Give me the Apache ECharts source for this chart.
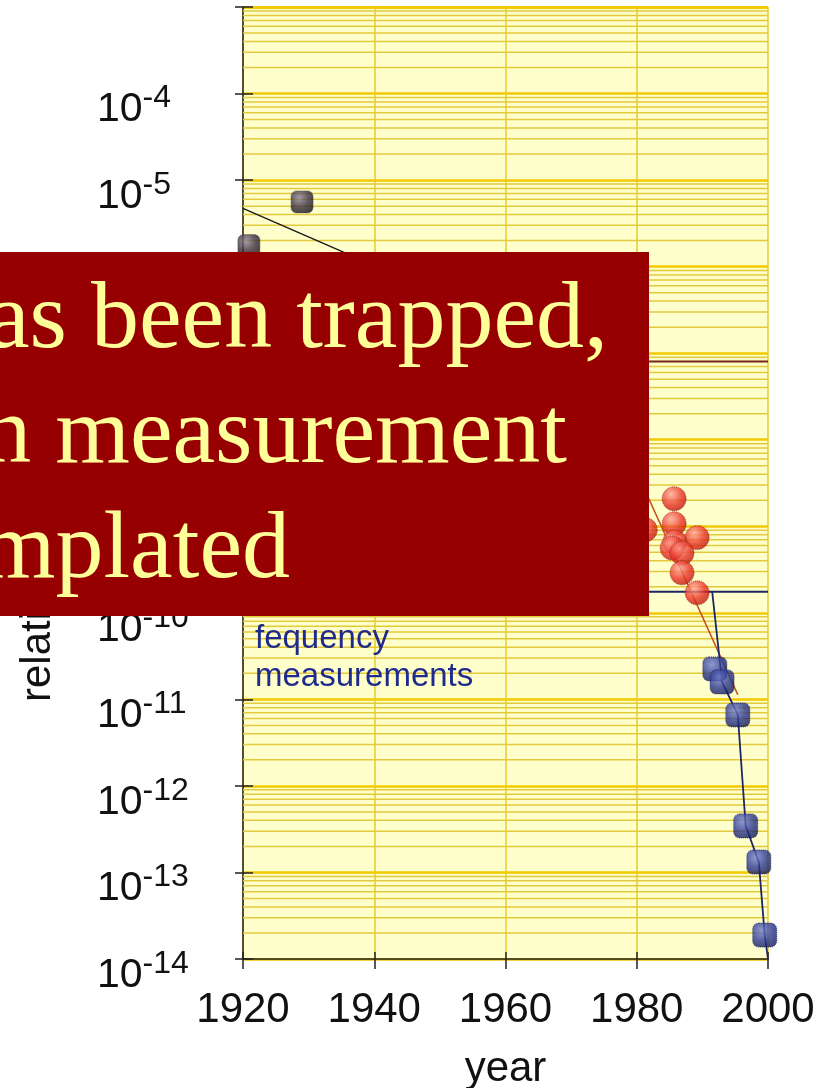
<!DOCTYPE html>
<html><head><meta charset="utf-8">
<script src="https://cdn.jsdelivr.net/npm/echarts@6/dist/echarts.min.js"></script>
<style>html,body{margin:0;padding:0;background:#fff}#c{width:829px;height:1088px}</style>
</head><body><div id="c"></div>
<script>
// ---- data ----
const xTicks = [1920, 1940, 1960, 1980, 2000];
const yTickExponents = [-14, -13, -12, -11, -10, -9, -8, -7, -6, -5, -4];
const gridDecades = [-14, -13, -12, -11, -10, -9, -8, -7, -6, -5, -4];
const minorFactors = [2, 3, 4, 5, 6, 7, 8, 9];

const blackYears = [1920.9, 1929.0];
const blackVals = [1.75e-6, 5.6e-6];
const blackFitYears = [1920, 1950];
const blackFitVals = [4.7e-6, 4.8e-7];

const redYears = [1981.3, 1985.7, 1985.7, 1989.2, 1985.8, 1985.4, 1986.9, 1986.9, 1989.2];
const redVals = [9.1e-10, 2.08e-9, 1.07e-9, 7.4e-10, 6.6e-10, 5.6e-10, 4.9e-10, 2.9e-10, 1.70e-10];
const redFitYears = [1978, 1995.4];
const redFitVals = [9.1e-9, 1.13e-11];

const blueYears = [1991.9, 1993.0, 1995.4, 1996.6, 1998.6, 1999.5];
const blueVals = [2.25e-11, 1.59e-11, 6.6e-12, 3.45e-13, 1.32e-13, 1.89e-14];
const blueCurveYears = [1991.5, 1993.0, 1995.4, 1996.6, 1998.6, 1999.5, 2000];
const blueCurveVals = [1.75e-10, 1.59e-11, 6.6e-12, 3.45e-13, 1.32e-13, 1.89e-14, 1e-14];

const darkRedLevel = 8e-8;
const blueLevel = 1.75e-10;
const levelYears = [1970, 2000];
const gridYears = [1920, 2000];

const overlayLines = ['as been trapped,', 'n measurement', 'mplated'];
const annotationLines = ['fequency', 'measurements'];
const xName = 'year';
const yName = 'relative uncertainty';

// ---- build ----
const zip = (xs, ys) => xs.map((x, i) => [x, ys[i]]);
const minorVals = [];
gridDecades.forEach(d => minorFactors.forEach(k => minorVals.push(k * Math.pow(10, d))));

const ball = (c0, c1, c2) => ({
  type: 'radial', x: 0.38, y: 0.32, r: 0.75,
  colorStops: [{offset: 0, color: c0}, {offset: 0.55, color: c1}, {offset: 1, color: c2}]
});

const font = '"Liberation Sans", Arial, Helvetica, sans-serif';
const serif = '"Liberation Serif", "Times New Roman", serif';

const gridSeries = minorVals.map(v => ({
  type: 'line', data: zip(gridYears, [v, v]), symbol: 'none', z: 1, silent: true,
  lineStyle: {color: '#E3C93C', width: 1.5}
}));

const chart = echarts.init(document.getElementById('c'), null, {renderer: 'canvas'});
chart.setOption({
  animation: false,
  backgroundColor: '#ffffff',
  grid: {left: 243, right: 61, top: 7, bottom: 129, show: true, backgroundColor: '#FFFFCC', borderWidth: 0, outerBoundsMode: 'none'},
  xAxis: [{
    type: 'value', min: 1920, max: 2000, interval: 20, position: 'bottom',
    name: xName, nameLocation: 'middle', nameGap: 89,
    nameTextStyle: {fontFamily: font, fontSize: 42, color: '#111'},
    axisLine: {show: true, lineStyle: {color: '#222', width: 1.5}},
    axisTick: {show: true, length: 10, lineStyle: {color: '#222', width: 1.5}},
    axisLabel: {fontFamily: font, fontSize: 42, lineHeight: 42, color: '#111', margin: 30,
      formatter: v => xTicks.includes(v) ? String(v) : ''},
    splitLine: {show: true, lineStyle: {color: '#E6CB2C', width: 1.5}}
  }, {
    type: 'value', min: 1920, max: 2000, interval: 20, position: 'bottom',
    axisLine: {show: false}, axisLabel: {show: false}, splitLine: {show: false},
    axisTick: {show: true, inside: true, length: 7, lineStyle: {color: '#222', width: 1.5}}
  }],
  yAxis: [{
    type: 'log', logBase: 10, min: 1e-14, max: 1e-3, interval: 1, position: 'left',
    axisLine: {show: true, lineStyle: {color: '#222', width: 1.5}},
    axisTick: {show: true, length: 8, lineStyle: {color: '#222', width: 1.5}},
    axisLabel: {
      align: 'left', margin: 146, padding: [33, 0, 0, 0], color: '#111',
      formatter: v => {
        const e = Math.round(Math.log10(v));
        return yTickExponents.includes(e) ? '{b|10}{s|' + e + '}' : '';
      },
      rich: {
        b: {fontFamily: font, fontSize: 41, lineHeight: 41, color: '#111', verticalAlign: 'bottom'},
        s: {fontFamily: font, fontSize: 32, lineHeight: 32, color: '#111', verticalAlign: 'bottom', padding: [0, 0, 16, 0]}
      }
    },
    splitLine: {show: true, lineStyle: {color: '#F2C800', width: 2.5}}
  }, {
    type: 'log', logBase: 10, min: 1e-14, max: 1e-3, interval: 1, position: 'left',
    axisLine: {show: false}, axisLabel: {show: false}, splitLine: {show: false},
    axisTick: {show: true, inside: true, length: 10, lineStyle: {color: '#222', width: 1.5}}
  }],
  series: gridSeries.concat([
    {type: 'line', data: zip(blackFitYears, blackFitVals), symbol: 'none', z: 2,
      lineStyle: {color: '#1a1a1a', width: 1.4}},
    {type: 'line', data: zip(levelYears, [darkRedLevel, darkRedLevel]), symbol: 'none', z: 2,
      lineStyle: {color: '#7A2A24', width: 2}},
    {type: 'line', data: zip(levelYears, [blueLevel, blueLevel]), symbol: 'none', z: 2,
      lineStyle: {color: '#1D2766', width: 2}},
    {type: 'line', data: zip(redFitYears, redFitVals), symbol: 'none', z: 2,
      lineStyle: {color: '#C3501E', width: 1.6}},
    {type: 'line', data: zip(blueCurveYears, blueCurveVals), symbol: 'none', z: 2,
      lineStyle: {color: '#1D2766', width: 1.8}},
    {type: 'scatter', data: zip(blackYears, blackVals), symbol: 'roundRect', symbolSize: 22, z: 3,
      itemStyle: {color: ball('#8f8298', '#3a2f40', '#140f18'), borderColor: '#444', borderWidth: 1, borderType: 'dotted'}},
    {type: 'scatter', data: zip(redYears, redVals), symbol: 'circle', symbolSize: 24, z: 3,
      itemStyle: {color: ball('#ffa898', '#ea3426', '#b0140c'), borderColor: '#8a2b20', borderWidth: 1, borderType: 'dotted'}},
    {type: 'scatter', data: zip(blueYears, blueVals), symbol: 'roundRect', symbolSize: 24, z: 3,
      itemStyle: {color: ball('#7480d0', '#2b3890', '#141a55'), borderColor: '#1c2260', borderWidth: 1, borderType: 'dotted'}}
  ]),
  graphic: [
    {type: 'text', z: 50, x: 38, y: 702, rotation: Math.PI / 2,
      style: {text: yName, fontFamily: font, fontSize: 42, fill: '#111', align: 'left', verticalAlign: 'middle'}},
    {type: 'text', z: 50, x: 255, y: 620,
      style: {text: annotationLines.join('\n'), fontFamily: font, fontSize: 33, lineHeight: 38, fill: '#1E2A8C', align: 'left', verticalAlign: 'top'}},
    {type: 'rect', z: 100, shape: {x: 0, y: 252, width: 649, height: 364}, style: {fill: '#960000'}},
    {type: 'text', z: 101, x: 608, y: 322, style: {text: overlayLines[0], fontFamily: serif, fontSize: 96, fill: '#FFFF99', align: 'right', verticalAlign: 'middle'}},
    {type: 'text', z: 101, x: 567, y: 437, style: {text: overlayLines[1], fontFamily: serif, fontSize: 96, fill: '#FFFF99', align: 'right', verticalAlign: 'middle'}},
    {type: 'text', z: 101, x: 290, y: 552, style: {text: overlayLines[2], fontFamily: serif, fontSize: 96, fill: '#FFFF99', align: 'right', verticalAlign: 'middle'}}
  ]
});
</script>
</body></html>
